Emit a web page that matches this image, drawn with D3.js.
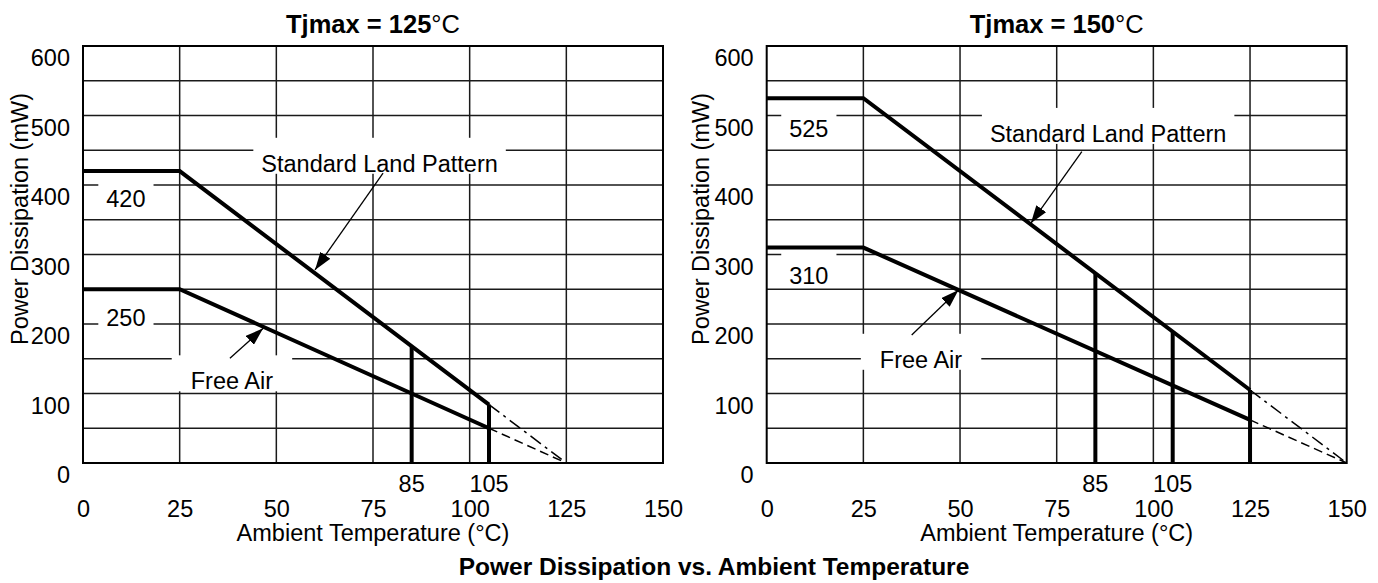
<!DOCTYPE html>
<html>
<head>
<meta charset="utf-8">
<script src="https://cdn.jsdelivr.net/npm/d3@7"></script>
<style>
  body { margin: 0; background: #fff; }
  svg text { font-family: 'Liberation Sans', Arial, sans-serif; fill: #000; }
</style>
</head>
<body>
<div id="svg-container"></div>
<script>
// axis ticks shared by both panels
const tempTicks = [0, 25, 50, 75, 100, 125, 150];
const powerTicks = [0, 100, 200, 300, 400, 500, 600];

// Tjmax = 125 °C
const landPattern125 = [[0, 420], [25, 420], [105, 84]];
const landPattern125Ext = [[105, 84], [125, 0]];
const freeAir125 = [[0, 250], [25, 250], [105, 50]];
const freeAir125Ext = [[105, 50], [125, 0]];
const cutoffs125 = [[85, 168], [105, 84]];
const cutoffLabels125 = [85, 105];

// Tjmax = 150 °C
const landPattern150 = [[0, 525], [25, 525], [125, 105]];
const landPattern150Ext = [[125, 105], [150, 0]];
const freeAir150 = [[0, 310], [25, 310], [125, 62]];
const freeAir150Ext = [[125, 62], [150, 0]];
const cutoffs150 = [[85, 273], [105, 189], [125, 105]];
const cutoffLabels150 = [85, 105];

const WIDTH = 1378;
const HEIGHT = 583;
const PLOT_TOP = 46;
const PLOT_BOTTOM = 463;
const PLOT_WIDTH = 580;
const FONT = 23.5;
const TICK_FONT = 23.5;

const svg = d3
  .select('#svg-container')
  .append('svg')
  .attr('width', WIDTH)
  .attr('height', HEIGHT);

svg
  .append('defs')
  .append('marker')
  .attr('id', 'arrow')
  .attr('viewBox', '0 0 18 12')
  .attr('refX', 18)
  .attr('refY', 6)
  .attr('markerWidth', 18)
  .attr('markerHeight', 12)
  .attr('markerUnits', 'userSpaceOnUse')
  .attr('orient', 'auto')
  .append('path')
  .attr('d', 'M0,0L18,6L0,12Z')
  .attr('fill', '#000');

const line = (xScale, yScale) =>
  d3
    .line()
    .x((d) => xScale(d[0]))
    .y((d) => yScale(d[1]));

const drawPanel = (cfg) => {
  const xScale = d3
    .scaleLinear()
    .domain([0, 150])
    .range([cfg.left, cfg.left + PLOT_WIDTH]);
  const yScale = d3
    .scaleLinear()
    .domain([0, 600])
    .range([PLOT_BOTTOM, PLOT_TOP]);
  const path = line(xScale, yScale);

  const g = svg.append('g');

  // grid
  const grid = g.append('g').attr('stroke', '#1a1a1a').attr('stroke-width', 1.5);
  grid
    .selectAll('line.v')
    .data(tempTicks.slice(1, -1))
    .join('line')
    .attr('class', 'v')
    .attr('x1', (d) => xScale(d))
    .attr('x2', (d) => xScale(d))
    .attr('y1', PLOT_TOP)
    .attr('y2', PLOT_BOTTOM);
  grid
    .selectAll('line.h')
    .data(yScale.ticks(12).slice(1, -1))
    .join('line')
    .attr('class', 'h')
    .attr('x1', cfg.left)
    .attr('x2', cfg.left + PLOT_WIDTH)
    .attr('y1', (d) => yScale(d))
    .attr('y2', (d) => yScale(d));

  const boxes = g.append('g');
  const marks = g.append('g').attr('fill', 'none').attr('stroke', '#000');
  const labels = g.append('g');

  g.append('rect')
    .attr('x', cfg.left)
    .attr('y', PLOT_TOP)
    .attr('width', PLOT_WIDTH)
    .attr('height', PLOT_BOTTOM - PLOT_TOP)
    .attr('fill', 'none')
    .attr('stroke', '#000')
    .attr('stroke-width', 2);

  // curves
  marks.append('path').attr('d', path(cfg.land)).attr('stroke-width', 4);
  marks.append('path').attr('d', path(cfg.air)).attr('stroke-width', 4);
  marks
    .append('path')
    .attr('d', path(cfg.landExt))
    .attr('stroke-width', 1.5)
    .attr('stroke-dasharray', '13,5,3,5');
  marks
    .append('path')
    .attr('d', path(cfg.airExt))
    .attr('stroke-width', 1.5)
    .attr('stroke-dasharray', '9,5');
  marks
    .selectAll('line.cut')
    .data(cfg.cutoffs)
    .join('line')
    .attr('class', 'cut')
    .attr('x1', (d) => xScale(d[0]))
    .attr('x2', (d) => xScale(d[0]))
    .attr('y1', yScale(0))
    .attr('y2', (d) => yScale(d[1]))
    .attr('stroke-width', 4);

  // annotation texts with white boxes that cut the grid
  cfg.notes.forEach((n) => {
    const t = labels
      .append('text')
      .attr('x', xScale(n.at[0]))
      .attr('y', yScale(n.at[1]))
      .attr('text-anchor', 'middle')
      .attr('font-size', FONT)
      .text(n.text);
    const box = t.node().getBBox();
    const base = yScale(n.at[1]);
    boxes
      .append('rect')
      .attr('x', box.x - n.pad)
      .attr('width', box.width + 2 * n.pad)
      .attr('y', base - 34)
      .attr('height', 36)
      .attr('fill', '#fff');
  });

  marks
    .selectAll('line.arrow')
    .data(cfg.arrows)
    .join('line')
    .attr('class', 'arrow')
    .attr('x1', (d) => xScale(d[0][0]))
    .attr('y1', (d) => yScale(d[0][1]))
    .attr('x2', (d) => xScale(d[1][0]))
    .attr('y2', (d) => yScale(d[1][1]))
    .attr('stroke-width', 1.3)
    .attr('marker-end', 'url(#arrow)');

  // axes
  const yAxis = g
    .append('g')
    .attr('transform', `translate(${cfg.left}, 0)`)
    .call(d3.axisLeft(yScale).tickValues(powerTicks).tickSize(0).tickPadding(13));
  yAxis.select('.domain').remove();
  yAxis
    .selectAll('text')
    .attr('dy', '0.85em')
    .attr('font-size', TICK_FONT)
    .attr('font-family', null);

  const xAxis = g
    .append('g')
    .attr('transform', `translate(0, ${PLOT_BOTTOM})`)
    .call(d3.axisBottom(xScale).tickValues(tempTicks).tickSize(0).tickPadding(37.5));
  xAxis.select('.domain').remove();
  xAxis.selectAll('text').attr('font-size', TICK_FONT).attr('font-family', null);

  labels
    .selectAll('text.cutlabel')
    .data(cfg.cutoffLabels)
    .join('text')
    .attr('class', 'cutlabel')
    .attr('x', (d) => xScale(d))
    .attr('y', PLOT_BOTTOM + 29)
    .attr('text-anchor', 'middle')
    .attr('font-size', TICK_FONT)
    .text((d) => d);

  const mid = cfg.left + PLOT_WIDTH / 2;
  g.append('text')
    .attr('x', mid)
    .attr('y', 541)
    .attr('text-anchor', 'middle')
    .attr('font-size', FONT)
    .text('Ambient Temperature (°C)');

  g.append('text')
    .attr('transform', `translate(${cfg.left - cfg.yTitleOffset}, 219) rotate(-90)`)
    .attr('text-anchor', 'middle')
    .attr('font-size', FONT)
    .text('Power Dissipation (mW)');

  const title = g
    .append('text')
    .attr('x', mid)
    .attr('y', 33)
    .attr('text-anchor', 'middle')
    .attr('font-size', 25.5);
  title.append('tspan').attr('font-weight', 'bold').text(`Tjmax = ${cfg.tjmax}`);
  title.append('tspan').text('°C');
};

drawPanel({
  left: 83,
  yTitleOffset: 55,
  tjmax: 125,
  land: landPattern125,
  landExt: landPattern125Ext,
  air: freeAir125,
  airExt: freeAir125Ext,
  cutoffs: cutoffs125,
  cutoffLabels: cutoffLabels125,
  notes: [
    { text: '420', at: [11.1, 368], pad: 8 },
    { text: '250', at: [11.1, 197], pad: 8 },
    { text: 'Standard Land Pattern', at: [76.7, 419], pad: 8 },
    { text: 'Free Air', at: [38.5, 106], pad: 19 },
  ],
  arrows: [
    [[77.6, 417], [60, 277.7]],
    [[38, 150.6], [46.6, 193.8]],
  ],
});

drawPanel({
  left: 766.7,
  yTitleOffset: 57.5,
  tjmax: 150,
  land: landPattern150,
  landExt: landPattern150Ext,
  air: freeAir150,
  airExt: freeAir150Ext,
  cutoffs: cutoffs150,
  cutoffLabels: cutoffLabels150,
  notes: [
    { text: '525', at: [10.9, 469], pad: 8 },
    { text: '310', at: [10.9, 257.6], pad: 8 },
    { text: 'Standard Land Pattern', at: [88.3, 462], pad: 8 },
    { text: 'Free Air', at: [39.9, 137], pad: 19 },
  ],
  arrows: [
    [[81.5, 447.9], [68.3, 344.9]],
    [[37.5, 184.2], [49.6, 248.9]],
  ],
});

svg
  .append('text')
  .attr('x', 714)
  .attr('y', 575)
  .attr('text-anchor', 'middle')
  .attr('font-size', 24.5)
  .attr('font-weight', 'bold')
  .text('Power Dissipation vs. Ambient Temperature');
</script>
</body>
</html>
